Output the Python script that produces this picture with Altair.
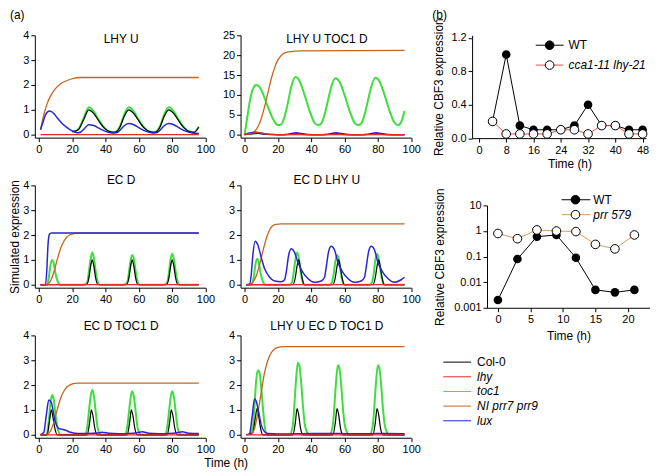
import altair as alt
import pandas as pd

FONT = "Liberation Sans"

# ---------------- (a) simulated expression: (time h, value) pairs ----------------
# Panel "LHY U"
lhyu_col0 = [(20,0.12),(22,0.14),(24,0.22),(27,0.62),(30,1.0),(33,0.85),(36,0.55),(39,0.28),(42,0.13),(45,0.09),(47,0.14),(49,0.35),(51,0.7),(54,1.0),(57,0.85),(60,0.55),(63,0.28),(66,0.13),(69,0.09),(71,0.14),(73,0.35),(75,0.7),(78,1.0),(81,0.85),(84,0.55),(87,0.28),(90,0.13),(93,0.09),(96,0.3)]
lhyu_toc1 = [(20,0.13),(22,0.15),(24,0.24),(27,0.68),(30,1.1),(33,0.93),(36,0.6),(39,0.3),(42,0.14),(45,0.1),(47,0.16),(49,0.38),(51,0.77),(54,1.1),(57,0.93),(60,0.6),(63,0.3),(66,0.14),(69,0.1),(71,0.16),(73,0.38),(75,0.77),(78,1.1),(81,0.93),(84,0.6),(87,0.3),(90,0.14),(93,0.1),(96,0.33)]
lhyu_lhy = [(1,0.0),(96,0.0)]
lhyu_nip = [(1,0.2),(3,0.8),(5,1.25),(7,1.55),(10,1.85),(13,2.05),(16,2.15),(20,2.25),(25,2.3),(30,2.3),(96,2.3)]
lhyu_lux = [(1,0.2),(2.5,0.5),(4,0.8),(6.5,0.95),(9,0.85),(11,0.68),(14,0.45),(17,0.28),(20,0.15),(23,0.08),(25,0.1),(27,0.22),(30,0.4),(33,0.37),(36,0.26),(40,0.13),(44,0.07),(47,0.09),(49,0.2),(51,0.35),(54,0.45),(57,0.4),(60,0.28),(64,0.14),(68,0.07),(71,0.09),(73,0.2),(75,0.35),(78,0.45),(81,0.4),(84,0.28),(88,0.14),(92,0.07),(96,0.05)]

# Panel "LHY U TOC1 D"
lt_col0 = [(0,0),(5,0.2),(8,0.3),(12,0.1),(20,0),(28,0.05),(31,0.2),(34,0.05),(40,0),(52,0.05),(55,0.2),(58,0.05),(64,0),(76,0.05),(79,0.2),(82,0.05),(88,0),(96,0)]
lt_toc1 = [(0,0),(1.5,4),(3,8),(5,11.5),(7,12.5),(9,12),(11,10.3),(14,7),(17,4),(20,2.4),(22,2.6),(24,4.5),(26,8),(28,12),(30.5,14.5),(33,13.5),(36,10),(39,6),(42,3),(44,2.4),(46,2.8),(48,5),(50,8.5),(52,12),(54.5,14.2),(57,13.3),(60,10),(63,6),(66,3),(68,2.4),(70,2.8),(72,5),(74,8.5),(76,12),(78.5,14.3),(81,13.4),(84,10),(87,6),(90,3),(92,2.4),(94,3.2),(96,6)]
lt_lhy = [(0,0),(4,0.3),(8,0.5),(12,0.25),(16,0),(96,0)]
lt_nip = [(0,0),(3,0.2),(6,0.8),(8,2),(10,4),(12,7),(14,10.5),(16,14),(18,16.8),(20,18.8),(23,20.3),(26,20.8),(30,21.0),(35,21.1),(96,21.2)]
lt_lux = [(0,0),(3,0.4),(7,0.6),(11,0.3),(15,0.1),(20,0),(25,0.05),(28,0.3),(31,0.5),(34,0.3),(38,0.05),(44,0),(49,0.05),(52,0.3),(55,0.5),(58,0.3),(62,0.05),(68,0),(73,0.05),(76,0.3),(79,0.5),(82,0.3),(86,0.05),(92,0),(96,0)]

# Panel "EC D"
ec_col0 = [(1,0),(28.5,0),(30,0.25),(31,0.7),(32,1.0),(33,0.75),(34,0.3),(35.5,0),(52.5,0),(54,0.25),(55,0.7),(56,1.0),(57,0.75),(58,0.3),(59.5,0),(76.5,0),(78,0.25),(79,0.7),(80,1.0),(81,0.75),(82,0.3),(83.5,0),(96,0)]
ec_toc1 = [(1,0),(5,0),(6,0.3),(7,0.8),(8,1.0),(9,0.85),(10,0.45),(11.5,0.1),(13,0),(27,0),(29,0.1),(30,0.5),(31,1.0),(32,1.3),(33,1.1),(34,0.6),(35,0.2),(36.5,0),(51,0),(53,0.1),(54,0.45),(55,0.95),(56,1.2),(57,1.05),(58,0.6),(59,0.2),(60.5,0),(75,0),(77,0.1),(78,0.45),(79,1.0),(80,1.25),(81,1.05),(82,0.6),(83,0.2),(84.5,0),(96,0)]
ec_lhy = [(1,0),(96,0)]
ec_nip = [(5,0),(7,0.15),(9,0.5),(11,1.0),(13,1.45),(15,1.75),(17,1.93),(19,2.02),(21,2.06),(23,2.08),(96,2.08)]
ec_lux = [(1,0),(4,0),(4.8,0.6),(5.5,1.6),(6.3,2.02),(7.5,2.08),(96,2.08)]

# Panel "EC D LHY U"
el_col0 = [(1,0),(29,0),(30.5,0.3),(31.5,0.75),(32.5,1.0),(33.5,0.7),(34.5,0.3),(36,0),(53,0),(54.5,0.3),(55.5,0.75),(56.5,1.0),(57.5,0.7),(58.5,0.3),(60,0),(77,0),(78.5,0.3),(79.5,0.75),(80.5,1.0),(81.5,0.7),(82.5,0.3),(84,0),(96,0)]
el_toc1 = [(1,0),(4,0),(5.5,0.3),(6.5,0.8),(7.5,1.05),(8.5,0.9),(9.5,0.5),(11,0.12),(12.5,0),(27,0),(28.5,0.1),(29.5,0.5),(30.5,1.0),(31.5,1.3),(32.5,1.1),(33.5,0.6),(34.5,0.2),(36,0),(51,0),(52.5,0.1),(53.5,0.45),(54.5,0.95),(55.5,1.2),(56.5,1.05),(57.5,0.6),(58.5,0.2),(60,0),(75,0),(76.5,0.1),(77.5,0.45),(78.5,1.0),(79.5,1.25),(80.5,1.05),(81.5,0.6),(82.5,0.2),(84,0),(96,0)]
el_lhy = [(1,0),(96,0)]
el_nip = [(3,0),(5,0.1),(7,0.35),(9,0.8),(11,1.35),(13,1.85),(15,2.2),(17,2.38),(19,2.43),(22,2.45),(96,2.45)]
el_lux = [(1,0),(3,0.02),(4,0.4),(5,1.2),(6.3,1.75),(8,1.6),(10,1.1),(12,0.65),(15,0.3),(18,0.15),(22,0.12),(24,0.2),(25,0.5),(26.5,1.2),(28,1.45),(30,1.3),(32,0.9),(35,0.5),(38,0.25),(42,0.1),(46,0.15),(48,0.3),(49,0.7),(50.5,1.35),(52,1.55),(54,1.4),(56,0.9),(59,0.5),(62,0.25),(66,0.1),(70,0.15),(72,0.3),(73,0.7),(74.5,1.35),(76,1.55),(78,1.4),(80,0.9),(83,0.5),(86,0.25),(90,0.1),(94,0.2),(96,0.3)]

# Panel "EC D TOC1 D"
et_col0 = [(1,0),(5,0),(6.5,0.6),(7.5,1.0),(8.5,0.7),(9.5,0.3),(11,0),(29,0),(30.5,0.5),(31.5,1.0),(32.5,0.75),(33.5,0.3),(35,0),(53,0),(54.5,0.5),(55.5,1.0),(56.5,0.75),(57.5,0.3),(59,0),(77,0),(78.5,0.5),(79.5,1.0),(80.5,0.75),(81.5,0.3),(83,0),(96,0)]
et_toc1 = [(1,0),(4.5,0),(6,0.6),(7,1.3),(8,1.6),(9,1.4),(10,0.8),(11.5,0.2),(13,0),(27.5,0),(29,0.3),(30,0.9),(31,1.5),(32,1.8),(33,1.6),(34,1.0),(35,0.4),(36.5,0.05),(38,0),(51.5,0),(53,0.3),(54,0.85),(55,1.45),(56,1.75),(57,1.55),(58,1.0),(59,0.4),(60.5,0.05),(62,0),(75.5,0),(77,0.3),(78,0.85),(79,1.45),(80,1.75),(81,1.55),(82,1.0),(83,0.4),(84.5,0.05),(86,0),(96,0)]
et_lhy = [(1,0),(96,0)]
et_nip = [(5,0),(7,0.15),(9,0.5),(11,1.0),(13,1.45),(15,1.75),(17,1.93),(19,2.02),(21,2.06),(23,2.08),(96,2.08)]
et_lux = [(1,0),(3,0.1),(4.5,0.8),(6,1.4),(7.5,1.3),(9,0.8),(10.5,0.4),(12,0.25),(14,0.22),(16,0.18),(19,0.1),(24,0.05),(30,0.05),(35,0.07),(38,0.1),(42,0.06),(48,0.04),(54,0.05),(59,0.08),(62,0.12),(66,0.06),(72,0.04),(78,0.05),(83,0.08),(86,0.12),(90,0.06),(96,0.05)]

# Panel "LHY U EC D TOC1 D"
let_col0 = [(3,0),(5,0.1),(6.5,0.7),(7.5,1.05),(8.5,0.75),(9.5,0.3),(11,0),(29,0),(30.5,0.5),(31.5,1.05),(32.5,0.8),(33.5,0.3),(35,0),(53,0),(54.5,0.5),(55.5,1.05),(56.5,0.8),(57.5,0.3),(59,0),(77,0),(78.5,0.5),(79.5,1.05),(80.5,0.8),(81.5,0.3),(83,0),(96,0)]
let_toc1 = [(3,0),(5,0.3),(6,1.2),(7,2.2),(8,2.6),(9,2.5),(10,1.9),(11,1.1),(12,0.4),(13.5,0),(27,0),(29,0.4),(30,1.3),(31,2.3),(32,2.9),(33,2.75),(34,2.1),(35,1.2),(36,0.5),(37.5,0.1),(39,0),(51,0),(53,0.4),(54,1.25),(55,2.2),(56,2.8),(57,2.65),(58,2.0),(59,1.1),(60,0.45),(61.5,0.1),(63,0),(75,0),(77,0.4),(78,1.25),(79,2.2),(80,2.8),(81,2.65),(82,2.0),(83,1.1),(84,0.45),(85.5,0.1),(87,0),(96,0)]
let_lhy = [(1,0),(96,0)]
let_nip = [(4,0),(6,0.25),(8,0.9),(10,1.7),(12,2.5),(14,3.0),(16,3.3),(18,3.45),(20,3.52),(23,3.55),(96,3.55)]
let_lux = [(1,0),(3,0.05),(4.5,0.7),(6,1.45),(7,1.35),(8.5,0.9),(10,0.4),(12,0.12),(14,0.05),(20,0.03),(30,0.04),(40,0.05),(56,0.05),(70,0.04),(80,0.05),(96,0.04)]

# ---------------- (b) CBF3 expression ----------------
top_t = [4, 8, 12, 16, 20, 24, 28, 32, 36, 40, 44, 48]
top_wt = [0.2, 1.0, 0.15, 0.1, 0.1, 0.1, 0.15, 0.4, 0.15, 0.15, 0.1, 0.1]
top_cca = [0.2, 0.05, 0.05, 0.05, 0.05, 0.1, 0.1, 0.05, 0.15, 0.15, 0.05, 0.05]

bot_t = [0, 3, 6, 9, 12, 15, 18, 21]
bot_wt = [0.002, 0.08, 0.6, 0.7, 0.09, 0.005, 0.004, 0.005]
bot_prr = [0.8, 0.5, 1.1, 1.0, 0.95, 0.3, 0.2, 0.7]

leg_a_names = ["Col-0", "lhy", "toc1", "NI prr7 prr9", "lux"]
leg_a_italic = [False, True, True, True, True]
leg_a_colors = ["#000000", "#e32b2b", "#3ede3e", "#c8641e", "#2626d9"]
leg_top_names = ["WT", "cca1-11 lhy-21"]
leg_top_italic = [False, True]
leg_top_colors = ["#000000", "#e2504a"]
leg_bot_names = ["WT", "prr 579"]
leg_bot_italic = [False, True]
leg_bot_colors = ["#000000", "#d99a5e"]
leg_fills = ["#000000", "#ffffff"]

SKEYS = ["col0", "lhy", "toc1", "nip", "lux"]
COLORS = dict(zip(SKEYS, leg_a_colors))
WIDTHS = {"col0": 1.2, "lhy": 1.3, "toc1": 2.0, "nip": 1.3, "lux": 1.5}
DRAW = ["toc1", "col0", "nip", "lux", "lhy"]

PW = 171.7
PH = 103


def to_df(pairs):
    return pd.DataFrame(pairs, columns=["t", "v"])


def label(txt, dx, dy, align="left", baseline="top"):
    return alt.Chart(pd.DataFrame({"lab": [txt]})).mark_text(
        align=align, baseline=baseline, fontSize=12, font=FONT, color="black"
    ).encode(x=alt.value(dx), y=alt.value(dy), text="lab:N")


def panel(series, title, ydom, yticks, ty, ytitle=None, xtitle=None, extra=None):
    xkw = dict(values=[0, 20, 40, 60, 80, 100], title=None)
    if xtitle:
        xkw.update(title=xtitle, titleX=192, titlePadding=3)
    ykw = dict(values=yticks, title=None)
    if ytitle:
        ykw.update(title=ytitle, titlePadding=1)
    x = alt.X("t:Q", scale=alt.Scale(domain=[-2.4, 100], nice=False, zero=False), axis=alt.Axis(**xkw))
    y = alt.Y("v:Q", scale=alt.Scale(domain=ydom, nice=False, zero=False), axis=alt.Axis(**ykw))
    layers = []
    for s in DRAW:
        layers.append(
            alt.Chart(to_df(series[s]))
            .mark_line(color=COLORS[s], strokeWidth=WIDTHS[s], interpolate="monotone")
            .encode(x=x, y=y)
        )
    layers.append(label(title, PW / 2 + 1, ty, align="center", baseline="middle"))
    if extra is not None:
        layers.append(extra)
    return alt.layer(*layers).properties(width=PW, height=PH)


def legend(names, italics, colors, yrange, x0, x1, xt, fills=None, xm=None):
    df = pd.DataFrame({"name": names, "it": italics})
    y = alt.Y("name:N", scale=alt.Scale(type="point", domain=names, range=yrange, padding=0), axis=None)
    col = alt.Color("name:N", scale=alt.Scale(domain=names, range=colors), legend=None)
    layers = [alt.Chart(df).mark_rule(strokeWidth=1).encode(y=y, x=alt.value(x0), x2=alt.value(x1), color=col)]
    if fills is not None:
        layers.append(
            alt.Chart(df).mark_point(shape="circle", size=75, filled=True, strokeWidth=1, opacity=1)
            .encode(y=y, x=alt.value(xm),
                    fill=alt.Fill("name:N", scale=alt.Scale(domain=names, range=fills), legend=None),
                    stroke=alt.value("black"))
        )
    layers.append(alt.Chart(df).transform_filter("!datum.it").mark_text(
        align="left", baseline="middle", fontSize=12, font=FONT, color="black").encode(y=y, x=alt.value(xt), text="name:N"))
    layers.append(alt.Chart(df).transform_filter("datum.it").mark_text(
        align="left", baseline="middle", fontSize=12, font=FONT, color="black", fontStyle="italic").encode(y=y, x=alt.value(xt), text="name:N"))
    return alt.layer(*layers)


def S(c, l, t, n, x):
    return {"col0": c, "lhy": l, "toc1": t, "nip": n, "lux": x}


Y4 = [-0.12, 4]
T4 = [0, 1, 2, 3, 4]
p1 = panel(S(lhyu_col0, lhyu_lhy, lhyu_toc1, lhyu_nip, lhyu_lux), "LHY U", Y4, T4, 4, extra=label("(a)", -25, -25))
p2 = panel(S(lt_col0, lt_lhy, lt_toc1, lt_nip, lt_lux), "LHY U TOC1 D", [-0.75, 25], [0, 5, 10, 15, 20, 25], 4)
p3 = panel(S(ec_col0, ec_lhy, ec_toc1, ec_nip, ec_lux), "EC D", Y4, T4, -5, ytitle="Simulated expression")
p4 = panel(S(el_col0, el_lhy, el_toc1, el_nip, el_lux), "EC D LHY U", Y4, T4, -5)
p5 = panel(S(et_col0, et_lhy, et_toc1, et_nip, et_lux), "EC D TOC1 D", Y4, T4, -9, xtitle="Time (h)")
p6 = panel(S(let_col0, let_lhy, let_toc1, let_nip, let_lux), "LHY U EC D TOC1 D", Y4, T4, -9)

A = alt.concat(p1, p2, p3, p4, p5, p6, columns=2, bounds="flush", spacing={"row": 48, "column": 35})

# ---- (b) top ----
df_top = pd.DataFrame({"t": top_t, "wt": top_wt, "mut": top_cca})
xb1 = alt.X("t:Q", scale=alt.Scale(domain=[-2, 49], nice=False, zero=False),
            axis=alt.Axis(values=[0, 8, 16, 24, 32, 40, 48], title="Time (h)", titleX=98, titlePadding=4))
ax1 = alt.Axis(values=[0, 0.4, 0.8, 1.2], format=".1f", title="Relative CBF3 expression", titlePadding=5)
sc1 = alt.Scale(domain=[0, 1.23], nice=False, zero=False)
top_data = alt.layer(
    alt.Chart(df_top).mark_line(color="black", strokeWidth=1).encode(x=xb1, y=alt.Y("wt:Q", scale=sc1, axis=ax1)),
    alt.Chart(df_top).mark_point(shape="circle", size=75, filled=True, color="black", opacity=1).encode(x=xb1, y=alt.Y("wt:Q", scale=sc1, axis=ax1)),
    alt.Chart(df_top).mark_line(color=leg_top_colors[1], strokeWidth=1).encode(x=xb1, y=alt.Y("mut:Q", scale=sc1, axis=ax1)),
    alt.Chart(df_top).mark_point(shape="circle", size=75, filled=True, fill="white", stroke="black", strokeWidth=1, opacity=1).encode(x=xb1, y=alt.Y("mut:Q", scale=sc1, axis=ax1)),
    label("(b)", -40, -25),
)
top_b = alt.layer(
    top_data,
    legend(leg_top_names, leg_top_italic, leg_top_colors, [10, 30], 64, 92, 97, fills=leg_fills, xm=78),
).resolve_scale(y="independent", color="independent", fill="independent").properties(width=175, height=103.5)

# ---- (b) bottom ----
df_bot = pd.DataFrame({"t": bot_t, "wt": bot_wt, "mut": bot_prr})
xb2 = alt.X("t:Q", scale=alt.Scale(domain=[-1.68, 23.4], range=[15, 179], nice=False, zero=False),
            axis=alt.Axis(values=[0, 5, 10, 15, 20], title="Time (h)", titleX=97, titlePadding=6))
ax2 = alt.Axis(values=[0.001, 0.01, 0.1, 1, 10], format="~g", title="Relative CBF3 expression", offset=-15, titlePadding=7)
sc2 = alt.Scale(type="log", domain=[0.001, 10], nice=False)
bot_data = alt.layer(
    alt.Chart(df_bot).mark_line(color="black", strokeWidth=1).encode(x=xb2, y=alt.Y("wt:Q", scale=sc2, axis=ax2)),
    alt.Chart(df_bot).mark_point(shape="circle", size=75, filled=True, color="black", opacity=1).encode(x=xb2, y=alt.Y("wt:Q", scale=sc2, axis=ax2)),
    alt.Chart(df_bot).mark_line(color=leg_bot_colors[1], strokeWidth=1).encode(x=xb2, y=alt.Y("mut:Q", scale=sc2, axis=ax2)),
    alt.Chart(df_bot).mark_point(shape="circle", size=75, filled=True, fill="white", stroke="black", strokeWidth=1, opacity=1).encode(x=xb2, y=alt.Y("mut:Q", scale=sc2, axis=ax2)),
)
bot_b = alt.layer(
    bot_data,
    legend(leg_bot_names, leg_bot_italic, leg_bot_colors, [-5.7, 9.3], 90, 119, 122, fills=leg_fills, xm=104),
    legend(leg_a_names, leg_a_italic, leg_a_colors, [157.7, 216.7], -29, -1, 5),
).resolve_scale(y="independent", color="independent", fill="independent").properties(width=179, height=103)

B = alt.vconcat(top_b, bot_b, spacing=67.2, bounds="flush")

chart = alt.hconcat(A, B, spacing=12, padding=0).configure(font=FONT).configure_axis(
    domainColor="black", tickColor="black", labelColor="black", titleColor="black",
    labelFont=FONT, titleFont=FONT, labelFontSize=11, titleFontSize=12, titleFontWeight="normal",
    tickSize=4, grid=False, labelPadding=2, labelFlush=False, domainWidth=1, tickWidth=1,
).configure_view(strokeWidth=0)

chart.save("out.html", embed_options={"renderer": "svg", "actions": False})
